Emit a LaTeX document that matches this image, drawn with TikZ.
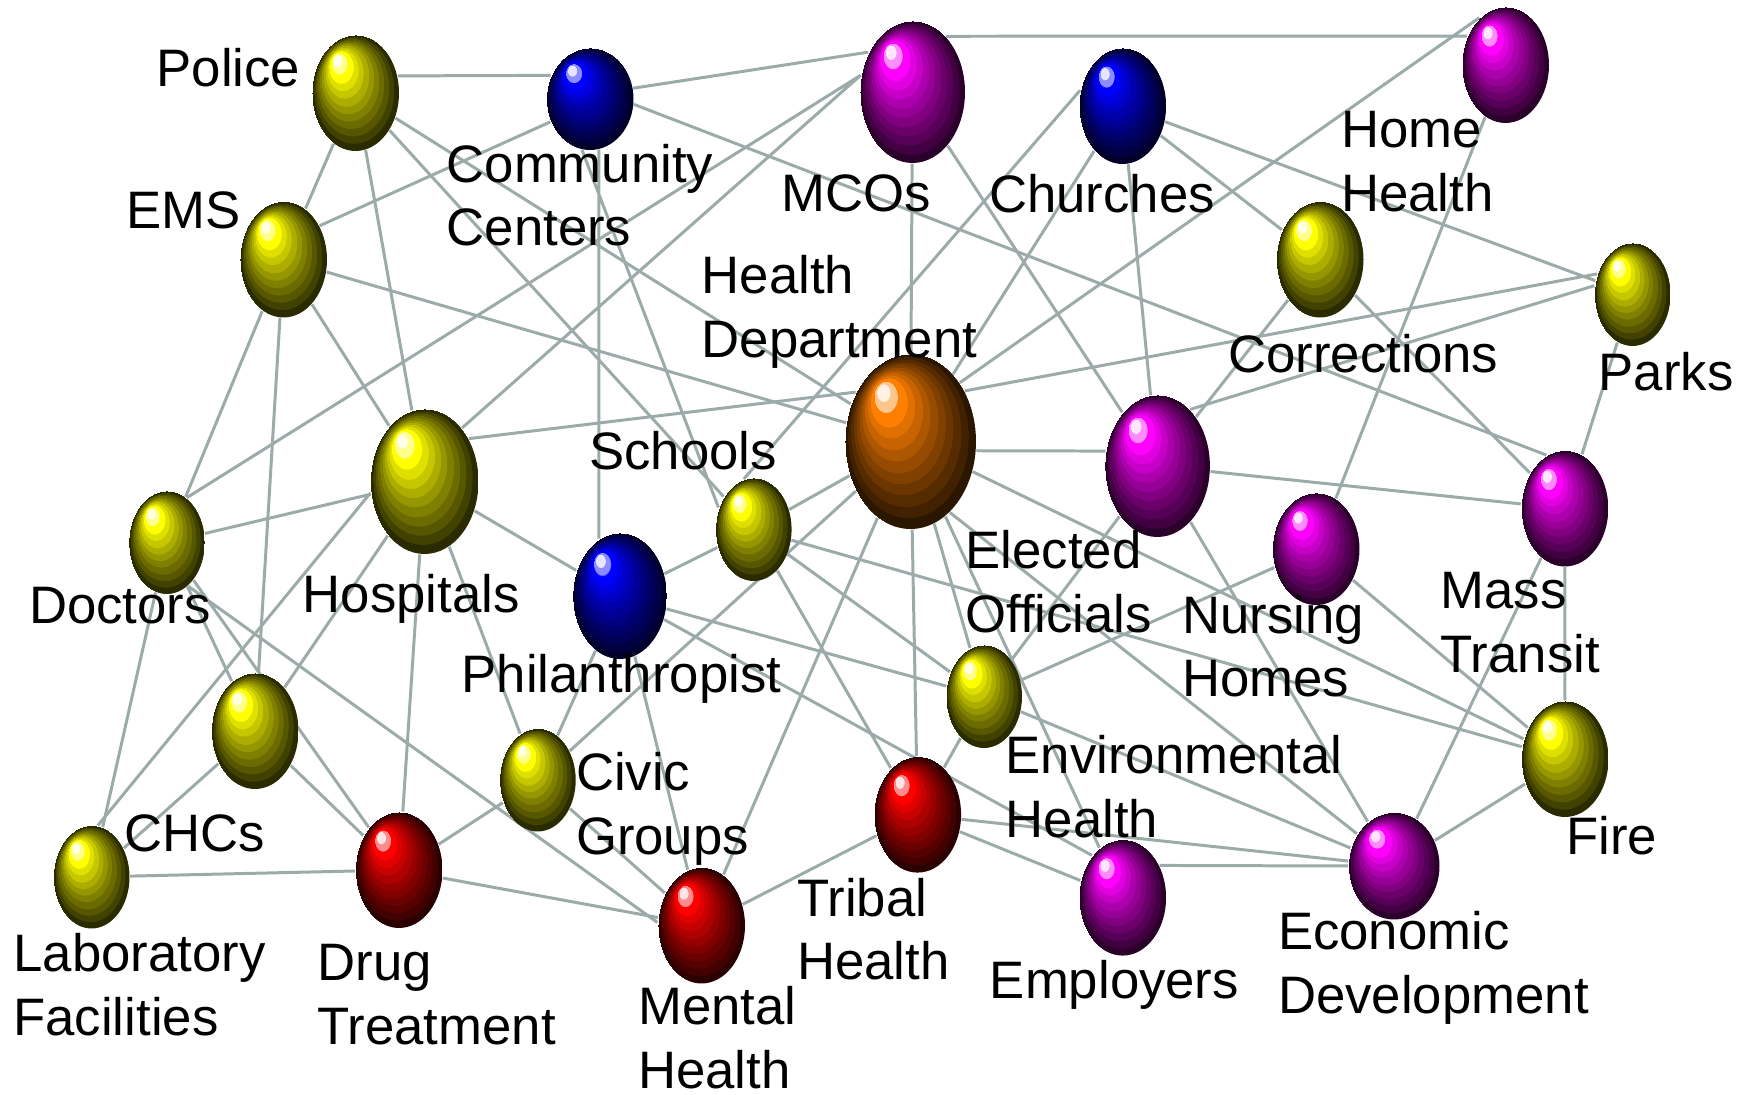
\documentclass[tikz,border=0pt]{standalone}
\usepackage{fontspec}
\setmainfont{Liberation Sans}
\usetikzlibrary{shapes.geometric,backgrounds}

\definecolor{linkgray}{RGB}{155,171,169}

\newcommand\declareball[2]{%
  \pgfdeclareradialshading{#1}{\pgfpoint{-11.5bp}{15.5bp}}{%
    color(0bp)=(#2!10!white); color(2.5bp)=(#2!10!white);
    color(2.51bp)=(#2!45!white); color(4.5bp)=(#2!45!white);
    color(4.51bp)=(#2); color(7bp)=(#2);
    color(7.01bp)=(#2!88!black); color(9bp)=(#2!88!black);
    color(9.01bp)=(#2!78!black); color(11bp)=(#2!78!black);
    color(11.01bp)=(#2!68!black); color(13bp)=(#2!68!black);
    color(13.01bp)=(#2!59!black); color(15bp)=(#2!59!black);
    color(15.01bp)=(#2!50!black); color(17bp)=(#2!50!black);
    color(17.01bp)=(#2!42!black); color(19bp)=(#2!42!black);
    color(19.01bp)=(#2!34!black); color(21bp)=(#2!34!black);
    color(21.01bp)=(#2!26!black); color(23bp)=(#2!26!black);
    color(23.01bp)=(#2!17!black); color(25bp)=(#2!17!black)}}
\declareball{yellowball}{yellow}
\declareball{blueball}{blue}
\declareball{magentaball}{magenta}
\declareball{redball}{red}
\declareball{orangeball}{orange}

\begin{document}
\begin{tikzpicture}[
        sphere/.style={ellipse, inner sep=0pt,
        minimum width=0.87cm, minimum height=1.16cm},
        smallball/.style={minimum width=0.76cm, minimum height=1.03cm},
        bigball/.style={minimum width=1.05cm, minimum height=1.42cm},
        yel/.style={sphere, shading=yellowball},
        blu/.style={sphere, shading=blueball},
        mag/.style={sphere, shading=magentaball},
        rd/.style={sphere, shading=redball},
        org/.style={sphere, shading=orangeball},
        lbl/.style={anchor=north west, inner sep=0pt, align=left,
        font=\fontsize{15}{18.1}\selectfont},
        link/.style={draw=linkgray, line width=0.85pt},
        ]
        \useasboundingbox (0,0) rectangle (17.48,-10.95);

        \node (police) [yel] at (3.555,-0.93){};
        \node (comm) [blu, minimum height=1.02cm] at (5.90,-0.99){};
        \node (mco) [mag, bigball] at (9.125,-0.92){};
        \node (church) [blu] at (11.226,-1.06){};
        \node (home) [mag] at (15.055,-0.65){};
        \node (ems) [yel] at (2.835,-2.595){};
        \node (corr) [yel] at (13.20,-2.595){};
        \node (parks) [yel, smallball] at (16.325,-2.945){};
        \node (health) [org, minimum width=1.31cm, minimum height=1.75cm] at (9.105,-4.415){};
        \node (hosp) [yel, minimum width=1.08cm, minimum height=1.45cm] at (4.245,-4.815){};
        \node (school) [yel, smallball] at (7.536,-5.295){};
        \node (doctor) [yel, smallball] at (1.668,-5.425){};
        \node (phil) [blu, minimum width=0.94cm, minimum height=1.26cm] at (6.198,-5.96){};
        \node (elect) [mag, bigball] at (11.574,-4.66){};
        \node (nursing) [mag, minimum height=1.12cm] at (13.16,-5.49){};
        \node (transit) [mag] at (15.648,-5.085){};
        \node (env) [yel, smallball] at (9.84,-6.965){};
        \node (chc) [yel] at (2.55,-7.31){};
        \node (civic) [yel, smallball] at (5.377,-7.80){};
        \node (lab) [yel, smallball] at (0.915,-8.77){};
        \node (drug) [rd] at (3.99,-8.70){};
        \node (tribal) [rd] at (9.176,-8.146){};
        \node (mental) [rd] at (7.015,-9.255){};
        \node (employ) [mag] at (11.226,-8.976){};
        \node (econ) [mag, minimum width=0.91cm, minimum height=1.07cm] at (13.94,-8.66){};
        \node (fire) [yel] at (15.65,-7.59){};

        \node (policeL) [lbl] at (1.56,-0.472){Police};
        \node (emsL) [lbl] at (1.256,-1.912){EMS};
        \node (commL) [lbl] at (4.46,-1.433){Community\\Centers};
        \node (mcoL) [lbl] at (7.804,-1.737){MCOs};
        \node (churchL) [lbl] at (9.885,-1.737){Churches};
        \node (homeL) [lbl] at (13.403,-1.11){Home\\Health};
        \node (healthL) [lbl] at (7.01,-2.545){Health\\Department};
        \node (corrL) [lbl] at (12.278,-3.338){Corrections};
        \node (parksL) [lbl] at (15.979,-3.513){Parks};
        \node (schoolL) [lbl] at (5.885,-4.306){Schools};
        \node (doctorL) [lbl] at (0.285,-5.865){Doctors};
        \node (hospL) [lbl] at (3.02,-5.732){Hospitals};
        \node (philL) [lbl] at (4.61,-6.536){Philanthropist};
        \node (electL) [lbl] at (9.648,-5.30){Elected\\Officials};
        \node (nursingL) [lbl] at (11.815,-5.942){Nursing\\Homes};
        \node (transitL) [lbl] at (14.40,-5.715){Mass\\Transit};
        \node (envL) [lbl] at (10.05,-7.347){Environmental\\Health};
        \node (civicL) [lbl] at (5.753,-7.515){Civic\\Groups};
        \node (chcL) [lbl] at (1.235,-8.137){CHCs};
        \node (fireL) [lbl] at (15.657,-8.154){Fire};
        \node (tribalL) [lbl] at (7.965,-8.773){Tribal\\Health};
        \node (econL) [lbl] at (12.774,-9.105){Economic\\Development};
        \node (labL) [lbl] at (0.127,-9.325){Laboratory\\Facilities};
        \node (drugL) [lbl] at (3.168,-9.437){Drug\\Treatment};
        \node (employL) [lbl] at (9.892,-9.594){Employers};
        \node (mentalL) [lbl] at (6.375,-9.86){Mental\\Health};

        \begin{scope}[on background layer]
        \draw [link] (police.22) -- (comm.149) (police) -- (health) (police) -- (school)
              (police) -- (hosp) (police) -- (ems);
        \draw [link] (ems.43) -- (comm.210) (ems) -- (health) (ems) -- (doctor)
              (ems) -- (chc) (ems) -- (hosp);
        \draw [link] (comm.14) -- (mco.138) (comm.-7) -- (transit.109) (comm.-80) -- (phil.110)
              (comm.-99) -- (school.148);
        \draw [link] (mco.162) -- (doctor.66) (mco.162) -- (hosp.55) (mco) -- (health)
              (mco) -- (elect) (mco.59) -- (home.143);
        \draw [link] (home.119) -- (health.50) (home) -- (nursing);
        \draw [link] (church.160) -- (school.101) (church) -- (health) (church) -- (elect)
              (church) -- (corr) (church) -- (parks);
        \draw [link] (corr) -- (elect) (corr) -- (transit);
        \draw [link] (parks.150) -- (health.43) (parks.167) -- (elect.60) (parks) -- (transit);
        \draw [link] (health.138) -- (hosp.44) (health) -- (school) (health) -- (civic)
              (health) -- (mental) (health) -- (tribal) (health) -- (env)
              (health) -- (employ) (health.-61) -- (econ.139) (health) -- (fire)
              (health.-8) -- (elect.164);
        \draw [link] (hosp) -- (doctor) (hosp) -- (phil) (hosp.192) -- (lab.83)
              (hosp) -- (chc) (hosp) -- (drug) (hosp) -- (civic);
        \draw [link] (school) -- (phil) (school) -- (tribal) (school) -- (env) (school) -- (fire);
        \draw [link] (doctor) -- (lab) (doctor) -- (chc) (doctor) -- (drug) (doctor.-64) -- (mental.176);
        \draw [link] (phil) -- (env) (phil.-28) -- (employ.126) (phil) -- (mental) (phil) -- (civic);
        \draw [link] (elect) -- (transit) (elect) -- (econ) (elect) -- (env);
        \draw [link] (nursing) -- (env) (nursing) -- (fire);
        \draw [link] (transit) -- (fire) (transit) -- (econ);
        \draw [link] (env) -- (tribal) (env) -- (econ);
        \draw [link] (chc) -- (lab) (chc) -- (drug);
        \draw [link] (civic) -- (drug) (civic) -- (mental);
        \draw [link] (lab) -- (drug) (drug) -- (mental);
        \draw [link] (tribal) -- (mental) (tribal) -- (employ) (tribal) -- (econ);
        \draw [link] (employ.41) -- (econ.180) (econ) -- (fire);
        \end{scope}
    \end{tikzpicture}
\end{document}
